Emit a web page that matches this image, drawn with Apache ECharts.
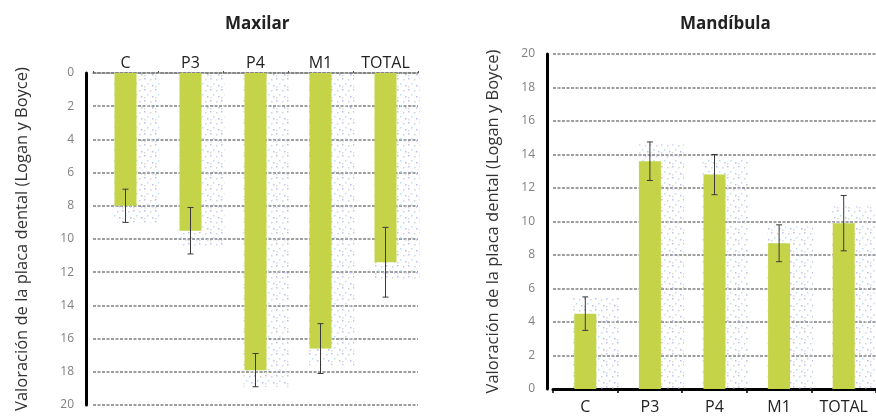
<!DOCTYPE html>
<html>
<head>
<meta charset="utf-8">
<script src="https://cdn.jsdelivr.net/npm/echarts@6/dist/echarts.min.js"></script>
<style>
  html, body { margin: 0; padding: 0; background: #fff; }
  #chart { width: 876px; height: 418px; }
</style>
</head>
<body>
<div id="chart"></div>
<script>
// categorías (dientes)
const categories = ['C', 'P3', 'P4', 'M1', 'TOTAL'];

// Maxilar: media y desviación
const maxilarMeans = [8.0, 9.5, 17.9, 16.6, 11.4];
const maxilarErrors = [1.0, 1.4, 1.0, 1.5, 2.1];

// Mandíbula: media y desviación
const mandibulaMeans = [4.5, 13.6, 12.8, 8.7, 9.9];
const mandibulaErrors = [1.0, 1.15, 1.2, 1.1, 1.65];

const yName = 'Valoración de la placa dental (Logan y Boyce)';
const font = '"Open Sans", "Noto Sans", sans-serif';
const barColor = '#c4d348';

const chart = echarts.init(document.getElementById('chart'));

// textura de puntos (sombra punteada del original)
const dots = document.createElement('canvas');
dots.width = 11;
dots.height = 11;
const g = dots.getContext('2d');
[[1, 1, '#bcc0ee'], [7, 2, '#d4d4dc'], [4, 6, '#b5e2f4'], [9, 8, '#bcc0ee'], [1, 9, '#dadada']].forEach(([x, y, c]) => {
  g.fillStyle = c;
  g.fillRect(x, y, 1.5, 1.5);
});

// barras de error (línea vertical + topes)
const renderError = (params, api) => {
  const i = api.value(0);
  const m = api.value(1);
  const e = api.value(2);
  const lo = api.coord([i, m - e]);
  const hi = api.coord([i, m + e]);
  const cap = 3;
  const style = { stroke: '#3a3a3a', lineWidth: 1 };
  return {
    type: 'group',
    children: [
      { type: 'line', shape: { x1: lo[0], y1: lo[1], x2: hi[0], y2: hi[1] }, style },
      { type: 'line', shape: { x1: lo[0] - cap, y1: lo[1], x2: lo[0] + cap, y2: lo[1] }, style },
      { type: 'line', shape: { x1: hi[0] - cap, y1: hi[1], x2: hi[0] + cap, y2: hi[1] }, style }
    ]
  };
};

// sombra punteada detrás de cada barra
const renderShadow = (params, api) => {
  const i = api.value(0);
  const m = api.value(1);
  const base = api.coord([i, 0]);
  const end = api.coord([i, m + 1]);
  const y1 = Math.min(base[1], end[1]);
  const y2 = Math.max(base[1], end[1]);
  return {
    type: 'rect',
    shape: { x: base[0] - 12, y: y1, width: 46, height: y2 - y1 },
    style: { fill: { image: dots, repeat: 'repeat' } }
  };
};

const splitLine = { show: true, lineStyle: { color: '#7f7f7f', width: 1.5, type: [3, 1.5] } };
const yLabel = { color: '#808080', fontSize: 12, fontFamily: font, margin: 12 };
const titleStyle = { fontFamily: font, fontSize: 17, fontWeight: 'bold', color: '#222' };
const nameStyle = { color: '#333', fontSize: 16.5, fontFamily: font };

const option = {
  animation: false,
  title: [
    { text: 'Maxilar', left: 220, top: 11, textStyle: titleStyle },
    { text: 'Mandíbula', left: 675, top: 11, textStyle: titleStyle }
  ],
  grid: [
    { left: 93, top: 73, width: 325, height: 332 },
    { left: 553, top: 54, width: 325, height: 335 }
  ],
  xAxis: [
    {
      gridIndex: 0,
      type: 'category',
      position: 'top',
      data: categories,
      axisLine: { lineStyle: { color: '#7f7f7f', width: 1.5, type: [3, 1.5] } },
      axisTick: { show: true, length: 2, lineStyle: { color: '#555' } },
      axisLabel: { color: '#222', fontSize: 16, fontFamily: font, margin: 2 }
    },
    {
      gridIndex: 1,
      type: 'category',
      position: 'bottom',
      data: categories,
      axisLine: { lineStyle: { color: '#000', width: 3 } },
      axisTick: { show: true, length: 4, lineStyle: { color: '#000', width: 1.5 } },
      axisLabel: { color: '#222', fontSize: 16, fontFamily: font, margin: 10 }
    }
  ],
  yAxis: [
    {
      gridIndex: 0,
      type: 'value',
      inverse: true,
      min: 0,
      max: 20,
      interval: 2,
      offset: 7,
      name: yName,
      nameLocation: 'middle',
      nameGap: 55,
      nameTextStyle: nameStyle,
      axisLine: { show: true, lineStyle: { color: '#000', width: 3 } },
      axisTick: { show: false },
      axisLabel: yLabel,
      splitLine
    },
    {
      gridIndex: 1,
      type: 'value',
      min: 0,
      max: 20,
      interval: 2,
      offset: 6,
      name: yName,
      nameLocation: 'middle',
      nameGap: 45,
      nameTextStyle: nameStyle,
      axisLine: { show: true, lineStyle: { color: '#000', width: 3 } },
      axisTick: { show: false },
      axisLabel: yLabel,
      splitLine
    }
  ],
  series: [
    {
      type: 'custom',
      xAxisIndex: 0,
      yAxisIndex: 0,
      renderItem: renderShadow,
      data: maxilarMeans.map((v, i) => [i, v]),
      silent: true,
      z: 1
    },
    {
      type: 'bar',
      xAxisIndex: 0,
      yAxisIndex: 0,
      data: maxilarMeans,
      barWidth: 22,
      itemStyle: { color: barColor },
      z: 3
    },
    {
      type: 'custom',
      xAxisIndex: 0,
      yAxisIndex: 0,
      renderItem: renderError,
      data: maxilarMeans.map((v, i) => [i, v, maxilarErrors[i]]),
      z: 5
    },
    {
      type: 'custom',
      xAxisIndex: 1,
      yAxisIndex: 1,
      renderItem: renderShadow,
      data: mandibulaMeans.map((v, i) => [i, v]),
      silent: true,
      z: 1
    },
    {
      type: 'bar',
      xAxisIndex: 1,
      yAxisIndex: 1,
      data: mandibulaMeans,
      barWidth: 22,
      itemStyle: { color: barColor },
      z: 3
    },
    {
      type: 'custom',
      xAxisIndex: 1,
      yAxisIndex: 1,
      renderItem: renderError,
      data: mandibulaMeans.map((v, i) => [i, v, mandibulaErrors[i]]),
      z: 5
    }
  ]
};

chart.setOption(option);
</script>
</body>
</html>
